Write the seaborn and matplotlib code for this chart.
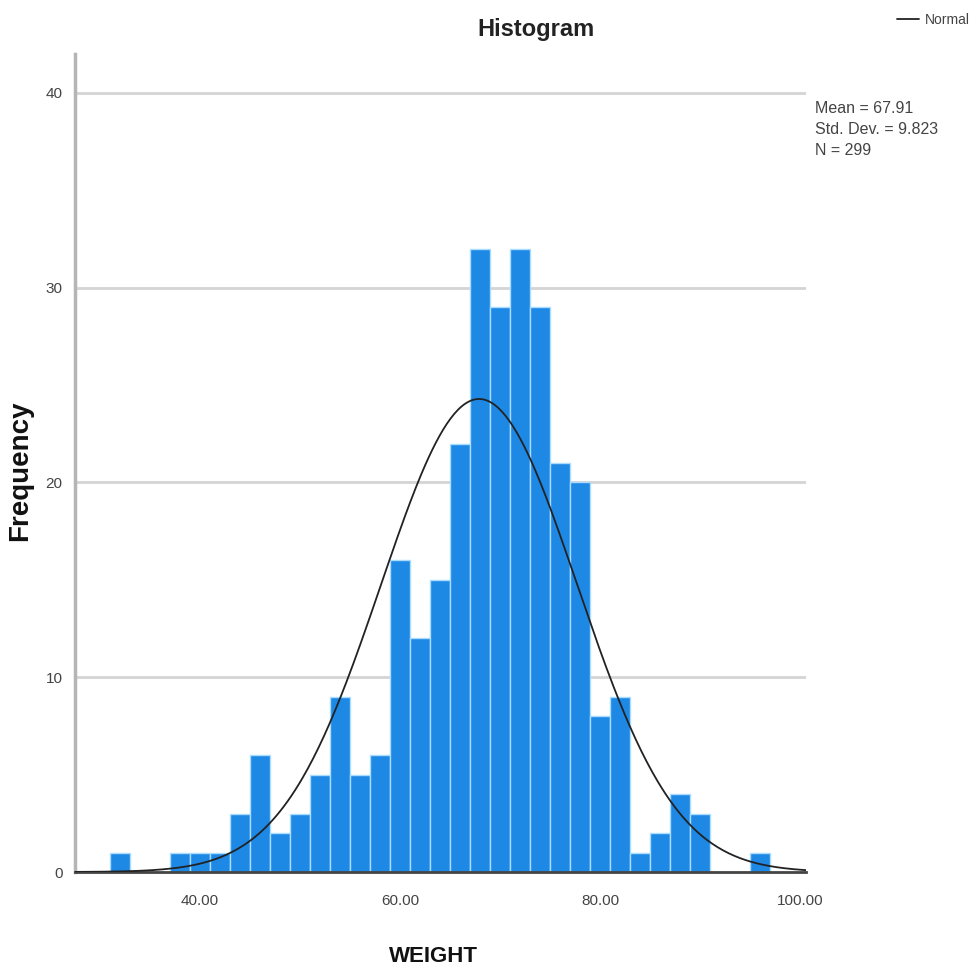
import numpy as np
import pandas as pd
import matplotlib
matplotlib.use('Agg')
import matplotlib.pyplot as plt
import seaborn as sns
from matplotlib.lines import Line2D

# counts per bin (width 2, first edge at 31)
bin_start = 31.0
bin_width = 2.0
counts = [1, 0, 0, 1, 1, 1, 3, 6, 2, 3, 5, 9, 5, 6, 16, 12, 15,
          22, 32, 29, 32, 29, 21, 20, 8, 9, 1, 2, 4, 3, 0, 0, 1]
mean_w = 67.91
sd_w = 9.823
n_w = 299
x_ticks = [40, 60, 80, 100]
y_ticks = [0, 10, 20, 30, 40]

sns.set_style('white')
plt.rcParams['font.family'] = ['Liberation Sans', 'DejaVu Sans']

bin_end = bin_start + bin_width * len(counts)
df = pd.DataFrame({'WEIGHT': bin_start + bin_width * (np.arange(len(counts)) + 0.5),
                   'count': counts})

fig = plt.figure(figsize=(9.76, 9.77), dpi=100)
ax = fig.add_axes([75 / 976, 1 - 872 / 977, 731 / 976, 818 / 977])

for y in y_ticks[1:]:
    ax.axhline(y, color='#d4d4d4', lw=2, zorder=0)

sns.histplot(data=df, x='WEIGHT', weights='count', binwidth=bin_width,
             binrange=(bin_start, bin_end), ax=ax,
             color='#1e88e5', alpha=1, edgecolor='#a9dcff', linewidth=1, zorder=2)

# normal curve from the mean / sd shown in the chart
xs = np.linspace(27.5, 100.6, 400)
ys = n_w * bin_width * np.exp(-0.5 * ((xs - mean_w) / sd_w) ** 2) / (sd_w * np.sqrt(2 * np.pi))
sns.lineplot(x=xs, y=ys, ax=ax, color='#222222', lw=1.3, zorder=3)

ax.set_xlim(27.5, 100.6)
ax.set_ylim(0, 42)
ax.set_xticks(x_ticks)
ax.set_xticklabels([f'{t:.2f}' for t in x_ticks])
ax.set_yticks(y_ticks)
ax.tick_params(axis='both', length=0, labelsize=11, colors='#444444')
ax.tick_params(axis='x', pad=16)
ax.tick_params(axis='y', pad=9)

for s in ['top', 'right']:
    ax.spines[s].set_visible(False)
ax.spines['left'].set_color('#b5b5b5')
ax.spines['left'].set_linewidth(2.5)
ax.spines['bottom'].set_color('#444444')
ax.spines['bottom'].set_linewidth(2)

ax.set_xlabel('WEIGHT', fontsize=16, fontweight='bold', color='#111111')
ax.xaxis.set_label_coords(0.49, -0.091)
ax.set_ylabel('Frequency', fontsize=20, fontweight='bold', color='#111111')
ax.yaxis.set_label_coords(-0.057, 0.491)

ax.set_title('Histogram', fontsize=17, fontweight='bold', color='#222222',
             x=0.63, pad=13)

ax.text(1.012, 0.942, f'Mean = {mean_w:.2f}\nStd. Dev. = {sd_w:.3f}\nN = {n_w}',
        transform=ax.transAxes, ha='left', va='top', fontsize=11.5,
        linespacing=1.5, color='#444444')

fig.legend(handles=[Line2D([], [], color='#222222', lw=1.3)], labels=['Normal'],
           loc='center left', bbox_to_anchor=(897 / 976, 1 - 20 / 977),
           frameon=False, fontsize=10, handlelength=1.6, handletextpad=0.4,
           borderaxespad=0, borderpad=0, labelcolor='#444444')

fig.savefig('out.png', dpi=100)
